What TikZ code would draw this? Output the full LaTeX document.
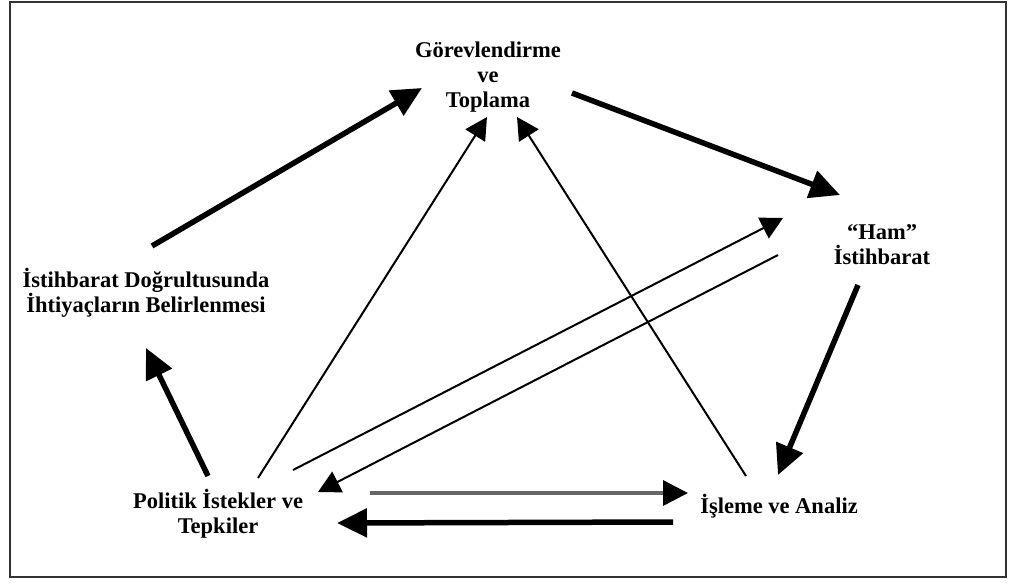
\documentclass[tikz,border=0pt]{standalone}
\usepackage{fontspec}
\setmainfont{Liberation Serif}
\usetikzlibrary{arrows.meta}

\begin{document}
\begin{tikzpicture}[
    x = 1pt, y = -1pt, % picture in pixel units, y downwards
    box/.style = {inner sep=0pt, align=center,
        font=\fontsize{22.5}{25}\selectfont\bfseries},
    bigarrow/.style = {line width=5.5pt,
        -{Triangle[length=30pt,width=28pt]}},
    thinarrow/.style = {line width=2pt,
        -{Triangle[length=22pt,width=23pt]}},
    grayarrow/.style = {line width=3.5pt, draw=black!60,
        -{Triangle[length=25pt,width=25pt,color=black]}}
    ]
    \useasboundingbox (0,0) rectangle (1012,582);
    \draw[line width=1.6pt, black!80] (10,2) rectangle (1006,577);

    \node[box] (gorev) at (488,77) {Görevlendirme\\ve\\Toplama};
    \node[box] (ham) at (882,245) {“Ham”\\İstihbarat};
    \node[box] (iht) at (146,293) {İstihbarat Doğrultusunda\\İhtiyaçların Belirlenmesi};
    \node[box] (pol) at (218,514) {Politik İstekler ve\\Tepkiler};
    \node[box] (isl) at (779,506) {İşleme ve Analiz};

    % outer cycle
    \draw[bigarrow] ([shift={(6,-47)}]iht.center) -- ([shift={(-66,11)}]gorev.center);
    \draw[bigarrow] ([shift={(84,16)}]gorev.center) -- ([shift={(-42,-50)}]ham.center);
    \draw[bigarrow] ([shift={(-24,40)}]ham.center) -- ([shift={(-1,-31)}]isl.center);
    \draw[bigarrow] ([shift={(-10,-38)}]pol.center) -- ([shift={(0,55)}]iht.center);
    \draw[bigarrow] ([shift={(-106,16)}]isl.center) -- ([shift={(119,9)}]pol.center);

    % inner links
    \draw[thinarrow] ([shift={(40,-36)}]pol.center) -- ([shift={(-1,40)}]gorev.center);
    \draw[thinarrow] ([shift={(-33,-30)}]isl.center) -- ([shift={(29,40)}]gorev.center);
    \draw[thinarrow] ([shift={(75,-44)}]pol.center) -- ([shift={(-99,-27)}]ham.center);
    \draw[thinarrow] ([shift={(-104,10)}]ham.center) -- ([shift={(100,-22)}]pol.center);
    \draw[grayarrow] ([shift={(152,-21)}]pol.center) -- ([shift={(-91,-13)}]isl.center);
\end{tikzpicture}
\end{document}
